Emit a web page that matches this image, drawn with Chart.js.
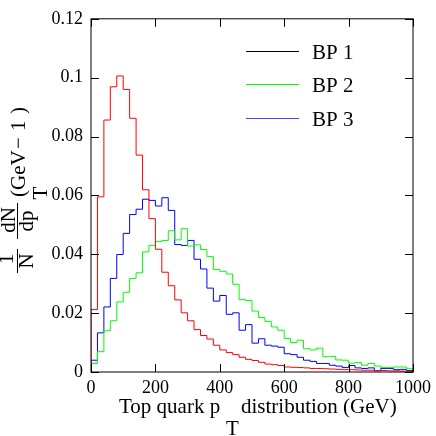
<!DOCTYPE html>
<html>
<head>
<meta charset="utf-8">
<script src="https://cdn.jsdelivr.net/npm/chart.js@4/dist/chart.umd.min.js"></script>
<style>
  html, body { margin: 0; padding: 0; background: #fff; }
  #chart { display: block; }
</style>
</head>
<body>
<canvas id="chart" width="436" height="436"></canvas>
<script>
// top quark pT distributions, 20 GeV bins, normalised to 1

const binLow = [0, 20, 40, 60, 80, 100, 120, 140, 160, 180,
  200, 220, 240, 260, 280, 300, 320, 340, 360, 380,
  400, 420, 440, 460, 480, 500, 520, 540, 560, 580,
  600, 620, 640, 660, 680, 700, 720, 740, 760, 780,
  800, 820, 840, 860, 880, 900, 920, 940, 960, 980];
const xMax = 1000;

const seriesNames = ['BP 1', 'BP 2', 'BP 3'];

const bp1 = [0.0212, 0.0595, 0.0856, 0.0969, 0.1006, 0.0960, 0.0862, 0.0737, 0.0619, 0.0521,
  0.0417, 0.0339, 0.0293, 0.0245, 0.0201, 0.0174, 0.0144, 0.0124, 0.0112, 0.0091,
  0.0075, 0.0066, 0.0059, 0.0050, 0.0043, 0.0039, 0.0033, 0.0027, 0.0025, 0.0022,
  0.0017, 0.0016, 0.0015, 0.0014, 0.0012, 0.0012, 0.0011, 0.0010, 0.0009, 0.0008,
  0.0008, 0.0007, 0.0006, 0.0006, 0.0005, 0.0005, 0.0004, 0.0004, 0.0003, 0.0003];

const bp2 = [0.0029, 0.0069, 0.0140, 0.0174, 0.0238, 0.0271, 0.0318, 0.0337, 0.0408, 0.0430,
  0.0443, 0.0447, 0.0480, 0.0449, 0.0487, 0.0428, 0.0432, 0.0416, 0.0392, 0.0348,
  0.0342, 0.0333, 0.0298, 0.0246, 0.0243, 0.0207, 0.0185, 0.0172, 0.0153, 0.0142,
  0.0114, 0.0100, 0.0108, 0.0079, 0.0075, 0.0081, 0.0052, 0.0053, 0.0041, 0.0040,
  0.0030, 0.0032, 0.0023, 0.0029, 0.0020, 0.0015, 0.0015, 0.0017, 0.0017, 0.0011];

const bp3 = [0.0040, 0.0133, 0.0221, 0.0318, 0.0399, 0.0471, 0.0535, 0.0553, 0.0587, 0.0583,
  0.0564, 0.0592, 0.0549, 0.0433, 0.0430, 0.0447, 0.0383, 0.0350, 0.0285, 0.0241,
  0.0260, 0.0196, 0.0201, 0.0142, 0.0161, 0.0098, 0.0113, 0.0091, 0.0088, 0.0084,
  0.0062, 0.0059, 0.0050, 0.0040, 0.0036, 0.0029, 0.0029, 0.0023, 0.0020, 0.0015,
  0.0022, 0.0014, 0.0012, 0.0014, 0.0004, 0.0012, 0.0012, 0.0008, 0.0009, 0.0005];

const xTickLabels = ['0', '200', '400', '600', '800', '1000'];
const yTickLabels = ['0', '0.02', '0.04', '0.06', '0.08', '0.1', '0.12'];

const lineColors = ['#ff0000', '#00ff00', '#0000ff'];
const legendColors = ['#000000', '#00ff00', '#4444ff'];
const serif = '"Liberation Serif", "DejaVu Serif", serif';

// step histogram: one point per bin low edge, plus closing point at xMax
function histPoints(values) {
  const pts = [{ x: binLow[0], y: 0 }];
  values.forEach((v, i) => pts.push({ x: binLow[i], y: v }));
  pts.push({ x: xMax, y: values[values.length - 1] });
  return pts;
}

// frame, inward ticks, axis titles and legend
const decorations = {
  id: 'decorations',
  afterDraw(chart) {
    const ctx = chart.ctx;
    const a = chart.chartArea;
    const xs = chart.scales.x;
    const ys = chart.scales.y;
    const tick = 8;

    ctx.save();
    ctx.strokeStyle = '#000';
    ctx.lineWidth = 1;
    ctx.strokeRect(a.left, a.top, a.right - a.left, a.bottom - a.top);

    ctx.beginPath();
    xs.ticks.forEach(t => {
      const px = Math.round(xs.getPixelForValue(t.value)) + 0.5;
      ctx.moveTo(px, a.bottom); ctx.lineTo(px, a.bottom - tick);
      ctx.moveTo(px, a.top); ctx.lineTo(px, a.top + tick);
    });
    ys.ticks.forEach(t => {
      const py = Math.round(ys.getPixelForValue(t.value)) + 0.5;
      ctx.moveTo(a.left, py); ctx.lineTo(a.left + tick, py);
      ctx.moveTo(a.right, py); ctx.lineTo(a.right - tick, py);
    });
    ctx.stroke();

    ctx.fillStyle = '#000';
    ctx.font = '21px ' + serif;
    ctx.textAlign = 'left';
    ctx.textBaseline = 'alphabetic';

    // x title with subscript T
    ctx.fillText('Top quark p', 119, 413);
    ctx.fillText('T', 226, 435);
    ctx.fillText('distribution (GeV)', 241, 413);

    // y title: 1/N dN/dpT (GeV -1), rotated
    ctx.save();
    ctx.rotate(-Math.PI / 2);
    ctx.textAlign = 'center';
    ctx.fillText('1', -259, 13);
    ctx.fillText('N', -261, 33);
    ctx.fillText('dN', -220, 15);
    ctx.fillText('dp', -221, 33);
    ctx.fillText('T', -193, 47);
    ctx.textAlign = 'left';
    ctx.fillText('(GeV', -197, 25);
    ctx.fillText('\u2212', -149, 25);
    ctx.fillText('1', -131, 25);
    ctx.fillText(')', -114, 25);
    ctx.restore();

    ctx.beginPath();
    ctx.moveTo(17.5, 249); ctx.lineTo(17.5, 273);
    ctx.moveTo(17.5, 203); ctx.lineTo(17.5, 239);
    ctx.stroke();

    // legend
    const legendY = [51, 84, 118];
    seriesNames.forEach((name, i) => {
      ctx.strokeStyle = legendColors[i];
      ctx.beginPath();
      ctx.moveTo(246, legendY[i] + 0.5);
      ctx.lineTo(299, legendY[i] + 0.5);
      ctx.stroke();
      ctx.fillText(name, 312, legendY[i] + 8);
    });
    ctx.restore();
  }
};

const datasets = [bp1, bp2, bp3].map((vals, i) => ({
  label: seriesNames[i],
  data: histPoints(vals),
  borderColor: lineColors[i],
  borderWidth: 1,
  stepped: 'before',
  pointRadius: 0,
  fill: false
}));

new Chart(document.getElementById('chart'), {
  type: 'line',
  data: { datasets },
  options: {
    responsive: false,
    devicePixelRatio: 1,
    animation: false,
    layout: { padding: { top: 8, right: 20, left: 0, bottom: 0 } },
    plugins: { legend: { display: false }, tooltip: { enabled: false } },
    scales: {
      x: {
        type: 'linear',
        min: 0,
        max: xMax,
        afterFit: s => { s.height = 64; },
        grid: { display: false, drawTicks: false },
        border: { display: false },
        ticks: {
          stepSize: 200,
          padding: 5,
          maxRotation: 0,
          color: '#000',
          font: { family: serif, size: 18 },
          callback: (v, i) => xTickLabels[i]
        }
      },
      y: {
        type: 'linear',
        min: 0,
        max: 0.12,
        afterFit: s => { s.width = 91; },
        grid: { display: false, drawTicks: false },
        border: { display: false },
        ticks: {
          stepSize: 0.02,
          padding: 8,
          color: '#000',
          font: { family: serif, size: 18 },
          callback: (v, i) => yTickLabels[i]
        }
      }
    }
  },
  plugins: [decorations]
});
</script>
</body>
</html>
